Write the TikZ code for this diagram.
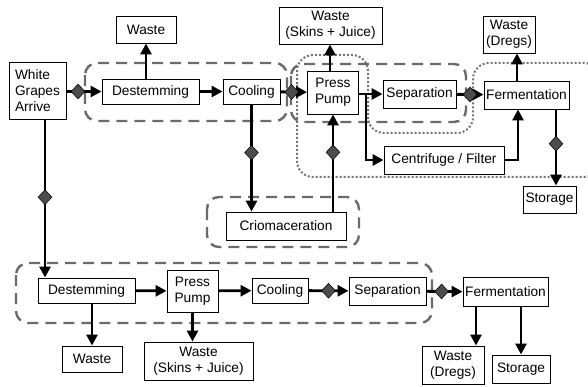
\documentclass[tikz,border=0pt]{standalone}
\usepackage{fontspec}
\setmainfont{Liberation Sans}
\usetikzlibrary{arrows.meta,shapes.geometric}

\begin{document}
\begin{tikzpicture}[x=1pt, y=-1pt, font=\fontsize{13.7}{16}\selectfont, >={Triangle[length=11pt,width=11pt]}]
  \tikzstyle{procbox} = [rectangle, draw, line width=0.9pt, align=center, inner sep=1pt, fill=white]
  \tikzstyle{flow} = [line width=2.8pt, ->]
  \tikzstyle{gem} = [diamond, draw=black, line width=0.5pt, fill=black!70, minimum width=14pt, minimum height=15pt, inner sep=0pt]
  \tikzstyle{grpdash} = [draw=black!58, line width=2.4pt, dash pattern=on 11pt off 7pt, rounded corners=12pt]
  \tikzstyle{grpdot} = [draw=black!55, line width=2pt, dash pattern=on 2pt off 2pt]

  \useasboundingbox (0,0) rectangle (588,387);

  % groups
  \draw[grpdash] (85,63) rectangle (287,121);
  \draw[grpdash] (291,64) rectangle (466,122);
  \draw[grpdash] (207,197) rectangle (359,247);
  \draw[grpdash] (16,263) rectangle (432,323);
  \draw[grpdot, rounded corners=16pt] (297,100) -- (297,55) -- (368,55) -- (368,133) -- (473,133) -- (473,63) -- (600,63) -- (600,177) -- (297,177) -- cycle;

  % top line
  \node[procbox, align=left, minimum width=57pt, minimum height=57pt] (grapes) at (37.5,91) {White\\Grapes\\Arrive};
  \node[procbox, minimum width=97pt, minimum height=25pt] (dest1) at (150.5,91.5) {Destemming};
  \node[procbox, minimum width=57pt, minimum height=25pt] (cool1) at (251.5,91.5) {Cooling};
  \node[procbox, minimum width=51pt, minimum height=43pt] (press1) at (333,92.5) {Press\\Pump};
  \node[procbox, minimum width=73pt, minimum height=28pt] (sep1) at (419.5,94) {Separation};
  \node[procbox, minimum width=85pt, minimum height=28pt] (ferm1) at (526.5,95) {Fermentation};
  \node[procbox, minimum width=60pt, minimum height=27pt] (waste1) at (146,29.5) {Waste};
  \node[procbox, minimum width=103pt, minimum height=37pt] (waste2) at (330.5,25.5) {Waste\\(Skins + Juice)};
  \node[procbox, minimum width=52pt, minimum height=37pt] (waste3) at (509,34.5) {Waste\\(Dregs)};
  \node[procbox, minimum width=120pt, minimum height=28pt] (cent) at (444,160) {Centrifuge / Filter};
  \node[procbox, minimum width=53pt, minimum height=27pt] (stor1) at (549.5,199.5) {Storage};
  \node[procbox, minimum width=120pt, minimum height=28pt] (crio) at (286,226) {Criomaceration};

  % bottom line
  \node[procbox, minimum width=97pt, minimum height=25pt] (dest2) at (86.5,290.5) {Destemming};
  \node[procbox, minimum width=51pt, minimum height=42pt] (press2) at (192.5,291) {Press\\Pump};
  \node[procbox, minimum width=56pt, minimum height=25pt] (cool2) at (280,290.5) {Cooling};
  \node[procbox, minimum width=77pt, minimum height=28pt] (sep2) at (387.5,291) {Separation};
  \node[procbox, minimum width=85pt, minimum height=29pt] (ferm2) at (505.5,292) {Fermentation};
  \node[procbox, minimum width=60pt, minimum height=26pt] (waste4) at (92,359) {Waste};
  \node[procbox, minimum width=109pt, minimum height=38pt] (waste5) at (198.5,361) {Waste\\(Skins + Juice)};
  \node[procbox, minimum width=62pt, minimum height=38pt] (waste6) at (453,365) {Waste\\(Dregs)};
  \node[procbox, minimum width=58pt, minimum height=28pt] (stor2) at (521,369) {Storage};

  \coordinate (split) at (366,94);

  \draw[flow] (grapes.east |- dest1) -- node[gem, pos=0.33] {} (dest1.west);
  \draw[flow] (dest1) -- (cool1);
  \draw[flow] (cool1) -- node[gem, pos=0.42] {} (press1);
  \draw[flow] (press1.east |- sep1) -- (sep1.west);
  \draw[flow] (split) |- (cent.west);
  \draw[flow] (sep1) -- node[gem] {} (ferm1);
  \draw[flow] (cent.east) -| ([xshift=-8.5pt]ferm1.south);
  \draw[flow] ([xshift=29.5pt]ferm1.south) -- node[gem, pos=0.45] {} ([xshift=29.5pt]ferm1.south |- stor1.north);
  \draw[flow] (waste1 |- dest1.north) -- (waste1.south);
  \draw[flow] ([xshift=-3pt]press1.north) -- ([xshift=-3pt]press1.north |- waste2.south);
  \draw[flow] ([xshift=-9.5pt]ferm1.north) -- ([xshift=-9.5pt]ferm1.north |- waste3.south);
  \draw[flow] (cool1.south) -- node[gem, pos=0.45] {} (cool1.south |- crio.north);
  \draw[flow] (crio.north -| press1) -- node[gem, pos=0.61] {} (press1.south);
  \draw[flow] ([xshift=7.5pt]grapes.south) -- node[gem, pos=0.49] {} ([xshift=7.5pt]grapes.south |- dest2.north);

  \draw[flow] (dest2) -- (press2);
  \draw[flow] (press2) -- (cool2);
  \draw[flow] (cool2) -- node[gem] {} (sep2);
  \draw[flow] (sep2) -- node[gem, pos=0.42] {} (ferm2);
  \draw[flow] (waste4.north |- dest2.south) -- (waste4.north);
  \draw[flow] (press2.south) -- (press2.south |- waste5.north);
  \draw[flow] ([xshift=-29.5pt]ferm2.south) -- ([xshift=-29.5pt]ferm2.south |- waste6.north);
  \draw[flow] (stor2.north |- ferm2.south) -- (stor2.north);
\end{tikzpicture}
\end{document}
